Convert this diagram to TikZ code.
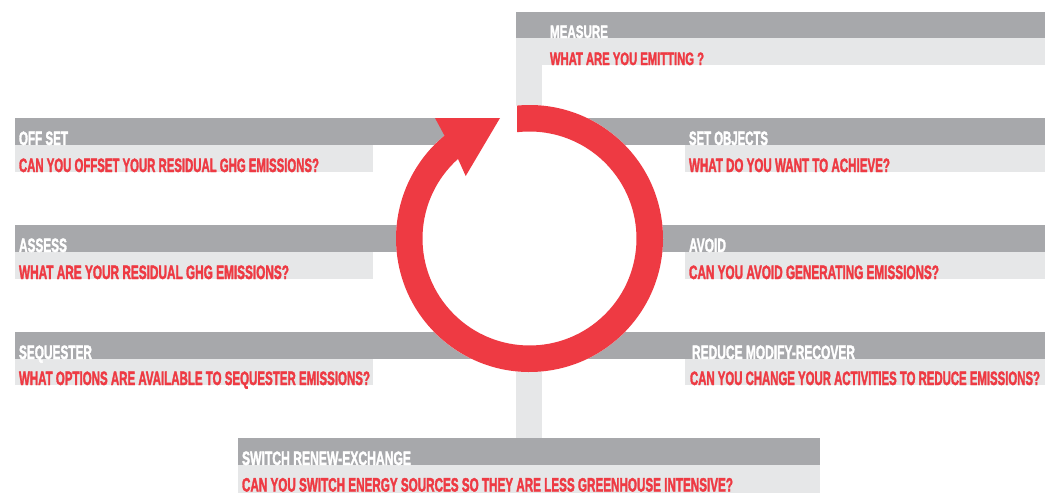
\documentclass[tikz,border=0pt]{standalone}
\usepackage{fontspec}
\setmainfont{Liberation Sans}[BoldFeatures={FakeBold=2.5}]
\usetikzlibrary{calc}
\definecolor{dgray}{HTML}{A7A8AB}
\definecolor{lgray}{HTML}{E6E7E8}
\definecolor{ringred}{HTML}{EE3A43}
\newcommand{\txtfit}[3]{\resizebox{#1pt}{#2pt}{\bfseries #3}}
\tikzset{
  darkbar/.style={fill=dgray, draw=none},
  lightbar/.style={fill=lgray, draw=none},
  headtxt/.style={text=white, anchor=base west, inner sep=0pt, outer sep=0pt},
  questxt/.style={text=ringred, anchor=base west, inner sep=0pt, outer sep=0pt},
}
\begin{document}
\begin{tikzpicture}[x=1pt, y=-1pt]
\useasboundingbox (0,0) rectangle (1045,493);
% bars
\fill[darkbar] (516,12) rectangle (1045,38);
\fill[lightbar] (516,38) rectangle (1045,65);
\fill[lightbar] (516,65) rectangle (542,438);
\fill[darkbar] (15,118) rectangle (1045,145);
\fill[lightbar] (15,145) rectangle (373,172);
\fill[lightbar] (685,145) rectangle (1045,172);
\fill[darkbar] (15,225) rectangle (1045,252);
\fill[lightbar] (15,252) rectangle (373,279);
\fill[lightbar] (685,252) rectangle (1045,279);
\fill[darkbar] (15,332) rectangle (1045,359);
\fill[lightbar] (15,359) rectangle (373,385);
\fill[lightbar] (685,359) rectangle (1045,385);
\fill[darkbar] (238,438) rectangle (820,465);
\fill[lightbar] (238,465) rectangle (820,493);
% cycle
\coordinate (c) at (529.5,238.5);
\fill[white] (c) circle[radius=133.5];
\fill[ringred] ($(c)+(-95.37:133.5)$) arc[start angle=-95.37, end angle=230.44, radius=133.5]
  -- (435,118) -- (500,118) -- (465.7,176) -- ($(c)+(228.07:107)$)
  arc[start angle=228.07, end angle=-96.71, radius=107] -- cycle;
% texts
\node[headtxt] (measure) at (550,38) {\txtfit{58}{12.5}{MEASURE}};
\node[questxt] (measureq) at (550,65) {\txtfit{154}{12.5}{WHAT ARE YOU EMITTING ?}};
\node[headtxt] (offset) at (19,145) {\txtfit{49}{13.5}{OFF SET}};
\node[questxt] (offsetq) at (19,172) {\txtfit{300}{13.5}{CAN YOU OFFSET YOUR RESIDUAL GHG EMISSIONS?}};
\node[headtxt] (assess) at (19,252) {\txtfit{48}{13.5}{ASSESS}};
\node[questxt] (assessq) at (19,279) {\txtfit{270}{13.5}{WHAT ARE YOUR RESIDUAL GHG EMISSIONS?}};
\node[headtxt] (sequester) at (19,359) {\txtfit{73}{13.5}{SEQUESTER}};
\node[questxt] (sequesterq) at (19,385) {\txtfit{351}{13.5}{WHAT OPTIONS ARE AVAILABLE TO SEQUESTER EMISSIONS?}};
\node[headtxt] (setobj) at (689,145) {\txtfit{79}{13.5}{SET OBJECTS}};
\node[questxt] (setobjq) at (689,172) {\txtfit{201}{13.5}{WHAT DO YOU WANT TO ACHIEVE?}};
\node[headtxt] (avoid) at (689,252) {\txtfit{37}{13.5}{AVOID}};
\node[questxt] (avoidq) at (689,279) {\txtfit{250}{13.5}{CAN YOU AVOID GENERATING EMISSIONS?}};
\node[headtxt] (reduce) at (692,359) {\txtfit{163}{13.5}{REDUCE MODIFY-RECOVER}};
\node[questxt] (reduceq) at (690,385) {\txtfit{350}{13.5}{CAN YOU CHANGE YOUR ACTIVITIES TO REDUCE EMISSIONS?}};
\node[headtxt] (switch) at (242,465) {\txtfit{169}{13.5}{SWITCH RENEW-EXCHANGE}};
\node[questxt] (switchq) at (242,491.5) {\txtfit{491}{13.5}{CAN YOU SWITCH ENERGY SOURCES SO THEY ARE LESS GREENHOUSE INTENSIVE?}};
\end{tikzpicture}
\end{document}
